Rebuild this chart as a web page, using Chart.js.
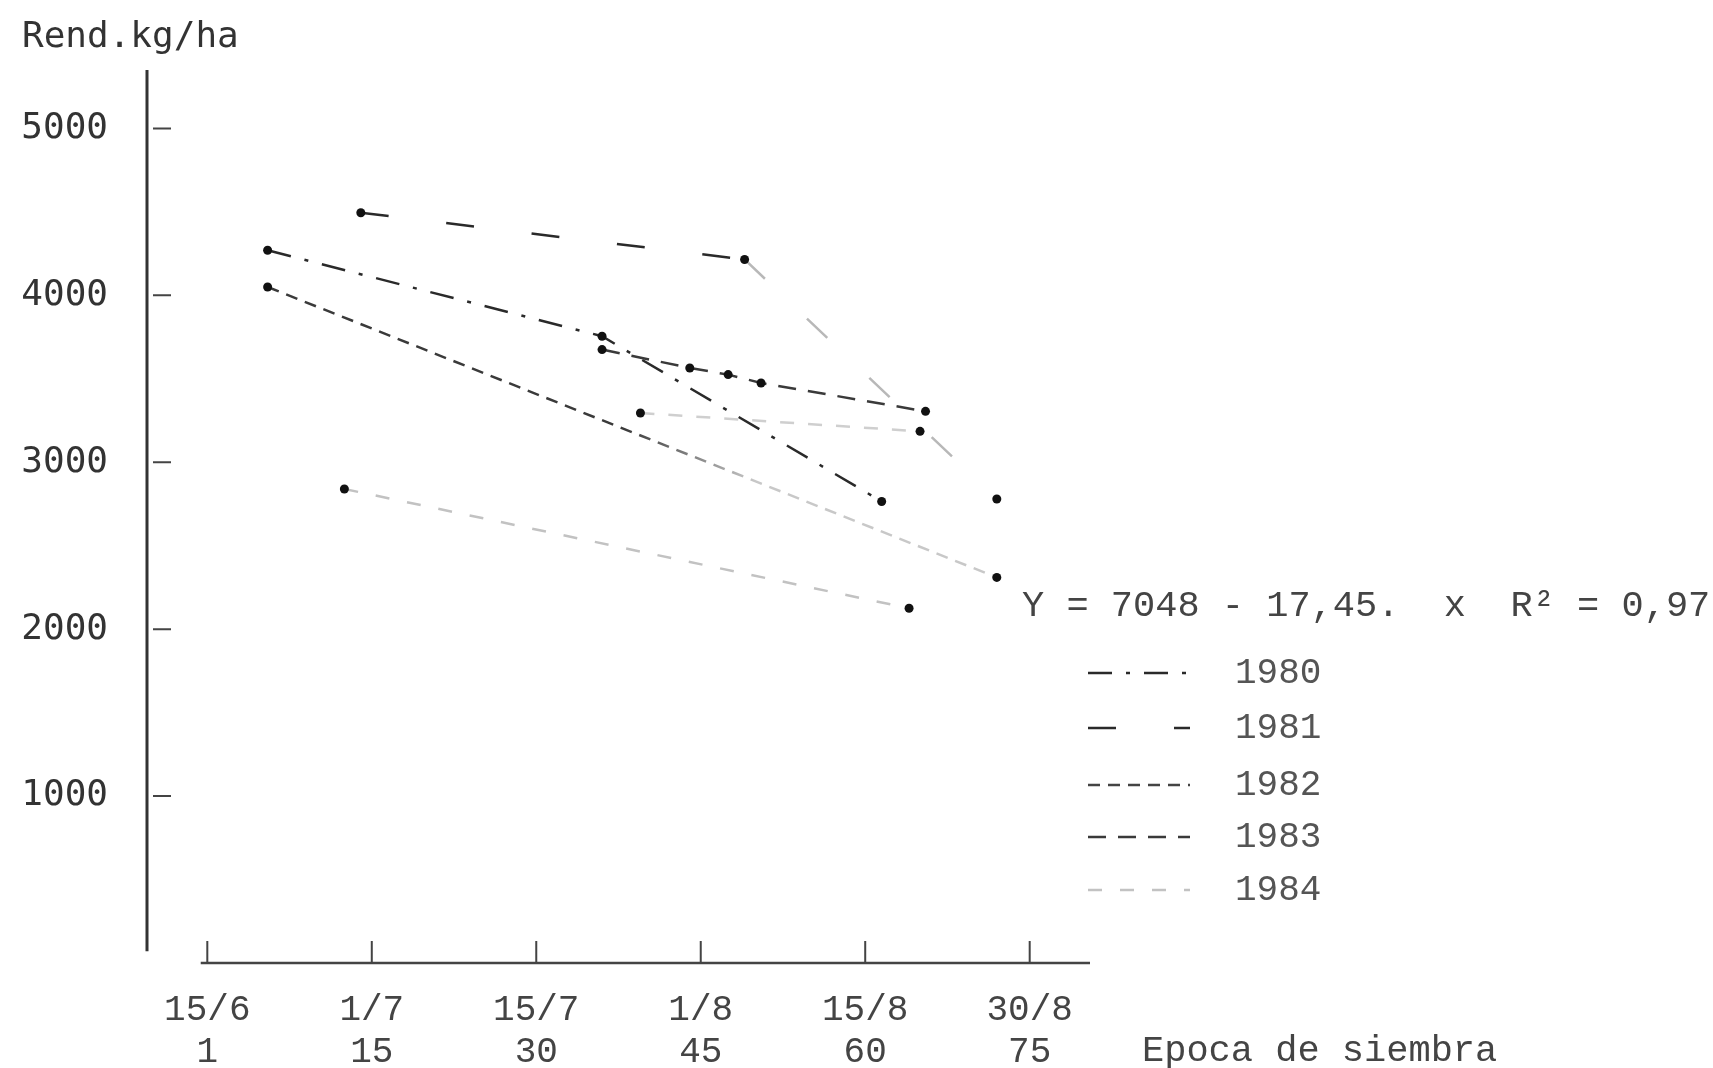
<!DOCTYPE html>
<html>
<head>
<meta charset="utf-8">
<title>Rendimiento vs época de siembra</title>
<script src="https://cdn.jsdelivr.net/npm/chart.js@4.4.1/dist/chart.umd.min.js"></script>
<style>
  html, body { margin: 0; padding: 0; background: #fff; }
  canvas { display: block; }
</style>
</head>
<body>
<canvas id="chart" width="1713" height="1068"></canvas>
<script>
// x = days after 15/6 (tick positions), y = kg/ha
const dayTicks = [0, 15, 30, 45, 60, 75];
const dateLabels = ['15/6', '1/7', '15/7', '1/8', '15/8', '30/8'];
const dayLabels = ['1', '15', '30', '45', '60', '75'];
const yTicks = [1000, 2000, 3000, 4000, 5000];

const years = ['1980', '1981', '1982', '1983', '1984'];

const x1980 = [5.5, 36, 61.5];
const y1980 = [4270, 3755, 2765];
const x1981 = [14, 49, 72];
const y1981 = [4495, 4215, 2780];
const x1982 = [5.5, 72];
const y1982 = [4050, 2310];
const x1983 = [36, 44, 47.5, 50.5, 65.5];
const y1983 = [3675, 3565, 3525, 3475, 3305];
const x1984 = [12.5, 64];
const y1984 = [2840, 2125];
// faint extra trace, not in the legend
const xOther = [39.5, 65];
const yOther = [3295, 3185];

const eqText = 'Y = 7048 - 17,45.  x  R\u00b2 = 0,97';

const pts = (xs, ys) => xs.map((v, i) => ({ x: v, y: ys[i] }));

const mono = 'Liberation Mono, Courier New, monospace';
const sansMono = 'DejaVu Sans Mono, monospace';

const makeSet = (label, xs, ys, color, dash, extra = {}) => Object.assign({
    label: label,
    data: pts(xs, ys),
    borderColor: color,
    legendColor: color,
    borderWidth: 2.5,
    borderDash: dash,
    borderCapStyle: 'butt',
    pointRadius: 4.5,
    pointBackgroundColor: '#111',
    pointBorderWidth: 0,
    fill: false,
    tension: 0
}, extra);

// 1982 trace fades out to the right like the scan
let fadeGrad = null;
const fadeColor = (c) => {
    const chart = c.chart;
    if (!chart.chartArea || !chart.scales.x) return '#444';
    const x = chart.scales.x;
    const g = chart.ctx.createLinearGradient(x.getPixelForValue(38), 0, x.getPixelForValue(50), 0);
    g.addColorStop(0, '#3a3a3a');
    g.addColorStop(1, '#c8c8c8');
    fadeGrad = g;
    return g;
};

const datasets = [
    makeSet(years[0], x1980, y1980, '#2a2a2a', [24, 14, 4, 14]),
    makeSet(years[1], x1981, y1981, '#2a2a2a', [28, 58], {
        segment: { borderColor: c => c.p0DataIndex === 1 ? '#b8b8b8' : undefined }
    }),
    makeSet(years[2], x1982, y1982, fadeColor, [12, 8], { legendColor: '#444' }),
    makeSet(years[3], x1983, y1983, '#3a3a3a', [18, 12]),
    makeSet(years[4], x1984, y1984, '#c2c2c2', [14, 18]),
    makeSet('', xOther, yOther, '#cfcfcf', [14, 14])
];

const decor = {
    id: 'decor',
    beforeDatasetsDraw(chart) {
        const { ctx, chartArea } = chart;
        const x = chart.scales.x, y = chart.scales.y;
        ctx.save();
        // y axis
        ctx.strokeStyle = '#333';
        ctx.lineWidth = 3;
        ctx.beginPath();
        ctx.moveTo(chartArea.left, chartArea.top);
        ctx.lineTo(chartArea.left, y.getPixelForValue(70));
        ctx.stroke();
        // x axis
        ctx.strokeStyle = '#444';
        ctx.lineWidth = 2.5;
        ctx.beginPath();
        ctx.moveTo(x.getPixelForValue(-0.6), y.getPixelForValue(0));
        ctx.lineTo(chartArea.right, y.getPixelForValue(0));
        ctx.stroke();
        // tick marks
        ctx.beginPath();
        y.ticks.forEach(t => {
            const py = y.getPixelForValue(t.value);
            ctx.moveTo(chartArea.left + 6, py);
            ctx.lineTo(chartArea.left + 24, py);
        });
        x.ticks.forEach(t => {
            const px = x.getPixelForValue(t.value);
            ctx.moveTo(px, y.getPixelForValue(0));
            ctx.lineTo(px, y.getPixelForValue(0) - 22);
        });
        ctx.lineWidth = 2;
        ctx.stroke();
        ctx.restore();
    },
    afterDraw(chart) {
        const { ctx } = chart;
        ctx.save();
        ctx.textBaseline = 'middle';
        ctx.textAlign = 'left';

        ctx.fillStyle = '#333';
        ctx.font = '36px ' + sansMono;
        ctx.fillText('Rend.kg/ha', 22, 38);

        ctx.fillStyle = '#444';
        ctx.font = '37px ' + mono;
        ctx.fillText(eqText, 1022, 606);
        ctx.fillText('Epoca de siembra', 1142, 1051);

        // legend
        const rows = [673, 728, 785, 837, 890];
        chart.data.datasets.forEach((ds, i) => {
            if (!ds.label) return;
            const ry = rows[i];
            ctx.strokeStyle = ds.legendColor;
            ctx.lineWidth = ds.borderWidth;
            ctx.setLineDash(ds.borderDash);
            ctx.beginPath();
            ctx.moveTo(1088, ry);
            ctx.lineTo(1190, ry);
            ctx.stroke();
            ctx.setLineDash([]);
            ctx.fillStyle = '#555';
            ctx.font = '36px ' + mono;
            ctx.fillText(ds.label, 1235, ry);
        });
        ctx.restore();
    }
};

new Chart(document.getElementById('chart'), {
    type: 'line',
    data: { datasets: datasets },
    options: {
        responsive: false,
        devicePixelRatio: 1,
        animation: false,
        layout: { padding: { top: 70, right: 623, bottom: 0, left: 0 } },
        plugins: {
            legend: { display: false },
            tooltip: { enabled: false }
        },
        scales: {
            x: {
                type: 'linear',
                min: -5.5,
                max: 80.5,
                grid: { display: false, drawTicks: false },
                border: { display: false },
                afterFit: s => { s.height = 105; },
                afterBuildTicks: s => { s.ticks = dayTicks.map(v => ({ value: v })); },
                ticks: {
                    padding: 26,
                    color: '#444',
                    font: { family: mono, size: 36, lineHeight: 1.17 },
                    maxRotation: 0,
                    autoSkip: false,
                    callback: (v, i) => [dateLabels[i], dayLabels[i]]
                }
            },
            y: {
                min: 0,
                max: 5350,
                grid: { display: false, drawTicks: false },
                border: { display: false },
                afterFit: s => { s.width = 147; },
                afterBuildTicks: s => { s.ticks = yTicks.map(v => ({ value: v })); },
                ticks: {
                    padding: 39,
                    color: '#333',
                    font: { family: sansMono, size: 36 },
                    callback: v => String(v)
                }
            }
        }
    },
    plugins: [decor]
});
</script>
</body>
</html>
